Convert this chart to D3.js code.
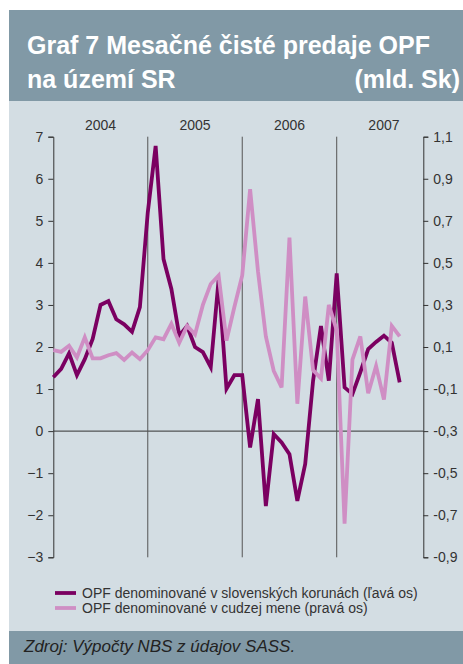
<!DOCTYPE html>
<html>
<head>
<meta charset="utf-8">
<script src="https://cdn.jsdelivr.net/npm/d3@7"></script>
<style>
  body { margin: 0; background: #fff; }
  svg { display: block; }
  text { font-family: "Liberation Sans", Arial, sans-serif; }
</style>
</head>
<body>
<div class="chart-container"></div>
<script>
(function() {
  ////////////////////////////////////////////////////////////
  //// Data //////////////////////////////////////////////////
  ////////////////////////////////////////////////////////////
  // monthly values, Jan 2004 .. Sep 2007
  const years = ["2004", "2005", "2006", "2007"];
  const skkSeries = [
    1.28, 1.48, 1.85, 1.33, 1.71, 2.19, 3.0, 3.09, 2.66, 2.54, 2.36, 2.95,
    5.2, 6.78, 4.09, 3.38, 2.27, 2.5, 2.0, 1.88, 1.52, 3.6, 1.01, 1.33,
    1.33, -0.39, 0.76, -1.78, -0.07, -0.27, -0.55, -1.66, -0.78, 1.2, 2.5, 1.2,
    3.75, 1.04, 0.88, 1.4, 1.95, 2.12, 2.27, 2.1, 1.16
  ];
  const fxSeries = [
    0.085, 0.077, 0.106, 0.05, 0.146, 0.046, 0.046, 0.061, 0.071, 0.039, 0.074, 0.042,
    0.085, 0.146, 0.137, 0.21, 0.12, 0.2, 0.16, 0.3, 0.4, 0.44, 0.13, 0.29,
    0.44, 0.85, 0.46, 0.15, -0.013, -0.092, 0.62, -0.17, 0.34, -0.01, -0.05, 0.3,
    0.18, -0.74, 0.04, 0.15, -0.12, 0.01, -0.15, 0.2, 0.15
  ];
  const leftTicks = [-3, -2, -1, 0, 1, 2, 3, 4, 5, 6, 7];
  const rightTicks = [-0.9, -0.7, -0.5, -0.3, -0.1, 0.1, 0.3, 0.5, 0.7, 0.9, 1.1];
  const legendLabels = [
    "OPF denominované v slovenských korunách (ľavá os)",
    "OPF denominované v cudzej mene (pravá os)"
  ];
  const titleLines = ["Graf 7 Mesačné čisté predaje OPF", "na území SR"];
  const unitLabel = "(mld. Sk)";
  const sourceLabel = "Zdroj: Výpočty NBS z údajov SASS.";

  ////////////////////////////////////////////////////////////
  //// Setup /////////////////////////////////////////////////
  ////////////////////////////////////////////////////////////
  const chartWidth = 463;
  const chartHeight = 664;
  const darkColor = "#7b0061";
  const lightColor = "#cf8ec4";
  const bandColor = "#8199a6";
  const panelColor = "#d3dde3";
  const axisColor = "#333";

  const plot = { left: 53.3, right: 423.3, top: 136.7, bottom: 557.3 };

  const xScale = d3.scaleLinear().domain([0, 47]).range([plot.left, plot.right]);
  const yLeft = d3.scaleLinear().domain([-3, 7]).range([plot.bottom, plot.top]);
  const yRight = d3.scaleLinear().domain([-0.9, 1.1]).range([plot.bottom, plot.top]);
  const fmtRight = v => d3.format(".1f")(v).replace(".", ",").replace("−", "-");

  const svg = d3
    .select(".chart-container")
    .append("svg")
    .attr("width", chartWidth)
    .attr("height", chartHeight)
    .attr("viewBox", [0, 0, chartWidth, chartHeight]);

  // background panels
  svg.append("rect")
    .attr("x", 9).attr("y", 101)
    .attr("width", chartWidth - 9).attr("height", 530)
    .attr("fill", panelColor);
  svg.append("rect")
    .attr("x", 9).attr("y", 10)
    .attr("width", chartWidth - 9).attr("height", 91)
    .attr("fill", bandColor);
  svg.append("rect")
    .attr("x", 9).attr("y", 631)
    .attr("width", chartWidth - 9).attr("height", chartHeight - 631)
    .attr("fill", bandColor);

  // title
  const title = svg.append("g")
    .attr("fill", "#fff")
    .style("font-family", "'Liberation Sans Narrow', 'DejaVu Sans Condensed', sans-serif")
    .style("font-weight", "bold")
    .style("font-size", "25px");
  title.append("text").attr("x", 27).attr("y", 54).text(titleLines[0]);
  title.append("text").attr("x", 27).attr("y", 88).text(titleLines[1]);
  title.append("text").attr("x", 460).attr("y", 88)
    .attr("text-anchor", "end").text(unitLabel);

  ////////////////////////////////////////////////////////////
  //// Axes //////////////////////////////////////////////////
  ////////////////////////////////////////////////////////////
  const styleAxis = g => {
    g.selectAll(".domain").attr("stroke", axisColor);
    g.selectAll(".tick line").attr("stroke", axisColor);
    g.selectAll(".tick text")
      .attr("fill", axisColor)
      .style("font-size", "14px")
      .style("font-family", "'Liberation Sans', Arial, sans-serif");
  };

  svg.append("g")
    .attr("transform", `translate(${plot.left},0)`)
    .call(d3.axisLeft(yLeft).tickValues(leftTicks).tickSize(5).tickSizeOuter(5).tickPadding(5))
    .call(styleAxis);

  svg.append("g")
    .attr("transform", `translate(${plot.right},0)`)
    .call(d3.axisRight(yRight).tickValues(rightTicks).tickSize(5).tickSizeOuter(5).tickPadding(5)
      .tickFormat(fmtRight))
    .call(styleAxis);

  // zero line and year separators
  svg.append("line")
    .attr("x1", plot.left).attr("x2", plot.right)
    .attr("y1", yLeft(0)).attr("y2", yLeft(0))
    .attr("stroke", axisColor).attr("stroke-width", 1);

  svg.append("g")
    .selectAll("line")
    .data([12, 24, 36])
    .join("line")
    .attr("x1", d => xScale(d)).attr("x2", d => xScale(d))
    .attr("y1", plot.top).attr("y2", plot.bottom)
    .attr("stroke", "#555").attr("stroke-width", 1);

  svg.append("g")
    .selectAll("text")
    .data(years)
    .join("text")
    .attr("x", (d, i) => xScale(i * 12 + 6))
    .attr("y", 130)
    .attr("text-anchor", "middle")
    .attr("fill", axisColor)
    .style("font-size", "14px")
    .text(d => d);

  ////////////////////////////////////////////////////////////
  //// Lines /////////////////////////////////////////////////
  ////////////////////////////////////////////////////////////
  const lineLeft = d3.line().x((d, i) => xScale(i)).y(d => yLeft(d));
  const lineRight = d3.line().x((d, i) => xScale(i)).y(d => yRight(d));

  svg.append("path")
    .datum(skkSeries)
    .attr("d", lineLeft)
    .attr("fill", "none")
    .attr("stroke", darkColor)
    .attr("stroke-width", 3.8)
    .attr("stroke-linejoin", "miter");

  svg.append("path")
    .datum(fxSeries)
    .attr("d", lineRight)
    .attr("fill", "none")
    .attr("stroke", lightColor)
    .attr("stroke-width", 3.8)
    .attr("stroke-linejoin", "miter");

  ////////////////////////////////////////////////////////////
  //// Legend ////////////////////////////////////////////////
  ////////////////////////////////////////////////////////////
  const legend = svg.append("g")
    .selectAll("g")
    .data(legendLabels)
    .join("g")
    .attr("transform", (d, i) => `translate(55,${593 + i * 15})`);
  legend.append("line")
    .attr("x1", 0).attr("x2", 21)
    .attr("stroke", (d, i) => i === 0 ? darkColor : lightColor)
    .attr("stroke-width", 3.8);
  legend.append("text")
    .attr("x", 27)
    .attr("dy", "0.35em")
    .attr("fill", axisColor)
    .style("font-size", "14px")
    .text(d => d);

  // source
  svg.append("text")
    .attr("x", 24).attr("y", 652)
    .attr("fill", "#222")
    .style("font-size", "17px")
    .style("font-style", "italic")
    .text(sourceLabel);
})();
</script>
</body>
</html>
